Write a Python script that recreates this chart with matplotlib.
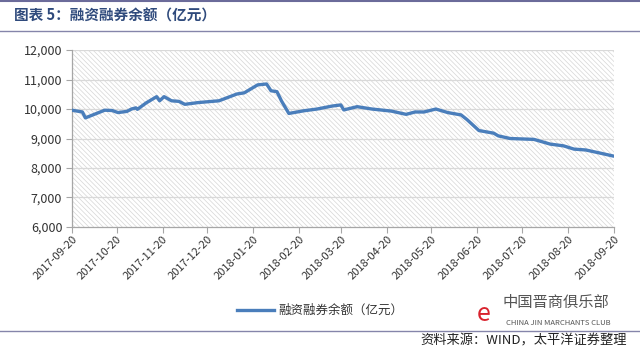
import matplotlib
matplotlib.use('Agg')
import matplotlib.pyplot as plt
import matplotlib.dates as mdates
from matplotlib.patches import Rectangle
from matplotlib.lines import Line2D
import pandas as pd

plt.rcParams['font.family'] = ['Noto Sans CJK SC', 'DejaVu Sans']
plt.rcParams['hatch.linewidth'] = 0.5
plt.rcParams['hatch.color'] = '#d6d6d6'

# balance values (亿元)
dates = ['2017-09-20', '2017-09-27', '2017-09-29', '2017-10-12', '2017-10-17',
         '2017-10-21', '2017-10-27', '2017-10-30', '2017-11-02', '2017-11-03',
         '2017-11-09', '2017-11-16', '2017-11-18', '2017-11-21', '2017-11-26',
         '2017-12-01', '2017-12-05', '2017-12-14', '2017-12-28', '2018-01-09',
         '2018-01-14', '2018-01-19', '2018-01-23', '2018-01-29', '2018-02-01',
         '2018-02-05', '2018-02-08', '2018-02-13', '2018-02-23', '2018-03-04',
         '2018-03-14', '2018-03-20', '2018-03-22', '2018-03-31', '2018-04-10',
         '2018-04-23', '2018-05-03', '2018-05-09', '2018-05-15', '2018-05-23',
         '2018-05-31', '2018-06-09', '2018-06-13', '2018-06-21', '2018-07-01',
         '2018-07-04', '2018-07-12', '2018-07-28', '2018-08-08', '2018-08-17',
         '2018-08-24', '2018-09-01', '2018-09-11', '2018-09-19']
balance = [9960, 9900, 9700, 9960, 9950,
           9880, 9920, 10000, 10040, 9990,
           10210, 10420, 10280, 10420, 10280,
           10260, 10160, 10220, 10280, 10510,
           10550, 10700, 10820, 10850, 10620,
           10590, 10280, 9850, 9940, 10000,
           10100, 10140, 9970, 10080, 10000,
           9930, 9820, 9900, 9900, 10000,
           9880, 9800, 9640, 9270, 9180,
           9090, 9000, 8970, 8810, 8750,
           8640, 8610, 8500, 8410]

tick_dates = ['2017-09-20', '2017-10-20', '2017-11-20', '2017-12-20', '2018-01-20',
              '2018-02-20', '2018-03-20', '2018-04-20', '2018-05-20', '2018-06-20',
              '2018-07-20', '2018-08-20', '2018-09-20']
y_ticks = [6000, 7000, 8000, 9000, 10000, 11000, 12000]

x = pd.to_datetime(dates)
xt = pd.to_datetime(tick_dates)

fig = plt.figure(figsize=(6.4, 3.48), dpi=100)
ax = fig.add_axes([0.1125, 0.348, 0.847, 0.508])

# hatched plot background
ax.add_patch(Rectangle((0, 0), 1, 1, transform=ax.transAxes, facecolor='white',
                       edgecolor='#d6d6d6', hatch='\\' * 7, lw=0, zorder=0))
for v in y_ticks[1:]:
    ax.axhline(v, color='#d9d9d9', lw=0.9, zorder=1)

ax.plot(x, balance, color='#4a7ebb', lw=2.4, zorder=3, solid_joinstyle='round')

ax.set_xlim(xt[0], xt[-1])
ax.set_ylim(6000, 12000)
ax.set_xticks(xt)
ax.xaxis.set_major_formatter(mdates.DateFormatter('%Y-%m-%d'))
ax.set_yticks(y_ticks)
ax.set_yticklabels(['{:,}'.format(v) for v in y_ticks])

for s in ['top', 'right']:
    ax.spines[s].set_visible(False)
for s in ['left', 'bottom']:
    ax.spines[s].set_color('#a6a6a6')
    ax.spines[s].set_linewidth(0.9)
ax.tick_params(axis='y', length=4, color='#a6a6a6', labelsize=9, labelcolor='#333333', pad=3)
ax.tick_params(axis='x', length=4, color='#a6a6a6', labelsize=8, labelcolor='#333333', pad=1)
plt.setp(ax.get_xticklabels(), rotation=45, ha='right', rotation_mode='anchor')

# title block
fig.add_artist(Line2D([0, 1], [0.996, 0.996], color='#6b6b9a', lw=1.5))
fig.add_artist(Line2D([0, 1], [0.911, 0.911], color='#8585aa', lw=1.0))
fig.text(0.022, 0.955, '图表 5：融资融券余额（亿元）', fontsize=10.5, color='#2f4a7c',
         va='center', ha='left', fontweight='bold')

# legend
fig.legend([Line2D([], [], color='#4a7ebb', lw=2.4)], ['融资融券余额（亿元）'],
           loc='center', bbox_to_anchor=(0.5, 0.108), frameon=False, fontsize=9,
           handlelength=3.0, handletextpad=0.3, labelcolor='#333333')

# watermark logo
fig.text(0.755, 0.098, 'e', fontsize=18, color='#d9232e', style='italic', va='center', ha='center')
fig.text(0.785, 0.13, '中国晋商俱乐部', fontsize=11, color='#555555', va='center', ha='left')
fig.text(0.79, 0.072, 'CHINA JIN MARCHANTS CLUB', fontsize=5.5, color='#555555', va='center', ha='left')

# footer
fig.add_artist(Line2D([0, 1], [0.049, 0.049], color='#8585aa', lw=1.0))
fig.text(0.98, 0.02, '资料来源：WIND，太平洋证券整理', fontsize=9.5, color='#222222',
         style='italic', va='center', ha='right')

fig.savefig('out.png', dpi=100)
